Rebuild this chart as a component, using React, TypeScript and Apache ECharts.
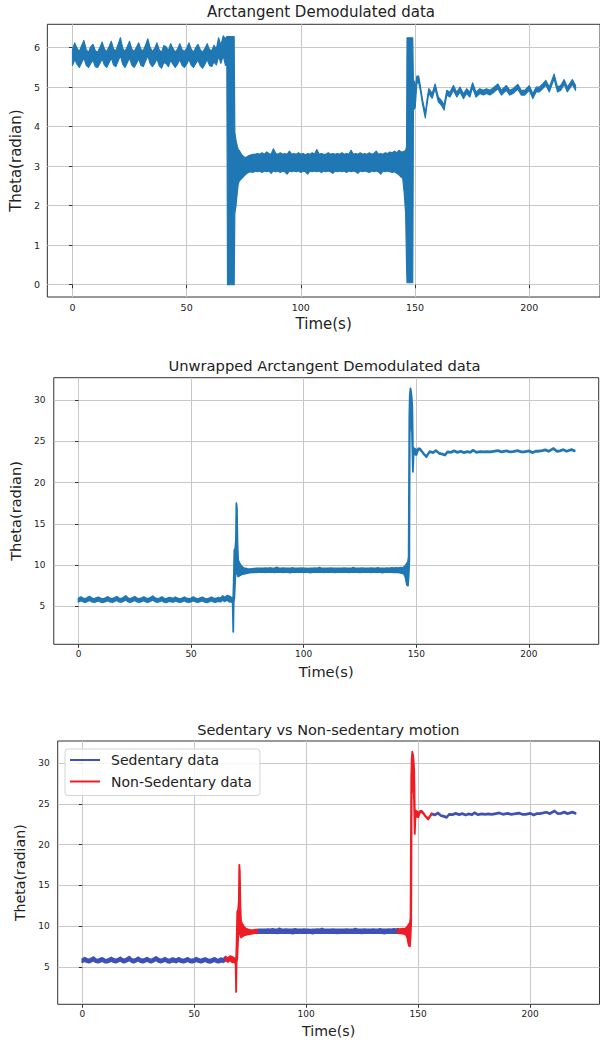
import React, { useEffect, useRef } from "react";
import * as echarts from "echarts";

const FONT = "DejaVu Sans";
const LINE_BLUE = "#1f77b4";
const SED_BLUE = "#3f51b5";
const NONSED_RED = "#ee1d25";
const GRID_GRAY = "#c8c8c8";
const FRAME = "#333333";
const TEXT = "#222222";

const TITLES = [
  "Arctangent Demodulated data",
  "Unwrapped Arctangent Demodulated data",
  "Sedentary vs Non-sedentary motion",
];
const X_NAME = "Time(s)";
const Y_NAME = "Theta(radian)";
const LEGEND_NAMES = ["Sedentary data", "Non-Sedentary data"];

const TIME_TICKS = [0, 50, 100, 150, 200];
const WRAPPED_TICKS = [0, 1, 2, 3, 4, 5, 6];
const UNWRAPPED_TICKS = [5, 10, 15, 20, 25, 30];

// Each row: [time (s), lower edge, upper edge] of the noisy trace (radian)
// Still phase 1 (0-67 s), identical in wrapped and unwrapped plots
const STILL_1 = [
  [0, 5.55, 5.95], [1, 5.7, 6.12], [2, 5.58, 5.98], [3, 5.5, 5.9], [4, 5.62, 6.05],
  [5, 5.74, 6.18], [6, 5.56, 5.95], [7, 5.5, 5.88], [8, 5.6, 6.02], [9, 5.68, 6.08],
  [10, 5.52, 5.92], [11, 5.5, 5.88], [12, 5.6, 6.0], [13, 5.72, 6.14], [14, 5.56, 5.96],
  [15, 5.5, 5.9], [16, 5.62, 6.02], [17, 5.74, 6.16], [18, 5.56, 5.96], [19, 5.52, 5.92],
  [20, 5.66, 6.08], [21, 5.8, 6.25], [22, 5.58, 5.98], [23, 5.5, 5.9], [24, 5.62, 6.02],
  [25, 5.74, 6.16], [26, 5.56, 5.96], [27, 5.5, 5.9], [28, 5.6, 6.0], [29, 5.72, 6.12],
  [30, 5.55, 5.95], [31, 5.52, 5.92], [32, 5.66, 6.06], [33, 5.8, 6.22], [34, 5.6, 6.0],
  [35, 5.52, 5.9], [36, 5.6, 5.98], [37, 5.72, 6.12], [38, 5.54, 5.94], [39, 5.48, 5.88],
  [40, 5.62, 6.05], [41, 5.6, 6.02], [42, 5.52, 5.92], [43, 5.68, 6.1], [44, 5.58, 5.98],
  [45, 5.5, 5.88], [46, 5.58, 5.96], [47, 5.7, 6.1], [48, 5.55, 5.95], [49, 5.5, 5.9],
  [50, 5.58, 5.98], [51, 5.7, 6.12], [52, 5.56, 5.96], [53, 5.5, 5.88], [54, 5.6, 6.0],
  [55, 5.68, 6.08], [56, 5.54, 5.94], [57, 5.48, 5.88], [58, 5.58, 5.98], [59, 5.7, 6.1],
  [60, 5.55, 5.95], [61, 5.52, 5.92], [62, 5.64, 6.06], [63, 5.56, 5.96], [64, 5.78, 6.25],
  [65, 5.6, 6.05], [66, 5.8, 6.3], [67, 5.55, 6.22],
];

// Still phase 2 (73-144 s), wrapped values
const STILL_2 = [
  [73, 2.62, 3.4], [74, 2.68, 3.3], [75, 2.74, 3.24], [76, 2.8, 3.22], [77, 2.84, 3.26],
  [78, 2.86, 3.28], [79, 2.84, 3.3], [80, 2.88, 3.3], [81, 2.86, 3.32], [82, 2.88, 3.3],
  [83, 2.84, 3.34], [84, 2.88, 3.3], [85, 2.86, 3.36], [86, 2.88, 3.32], [87, 2.82, 3.3],
  [88, 2.88, 3.44], [89, 2.86, 3.32], [90, 2.88, 3.3], [91, 2.84, 3.34], [92, 2.88, 3.3],
  [93, 2.86, 3.32], [94, 2.8, 3.3], [95, 2.88, 3.38], [96, 2.86, 3.3], [97, 2.88, 3.32],
  [98, 2.86, 3.3], [99, 2.88, 3.34], [100, 2.84, 3.3], [101, 2.88, 3.32], [102, 2.86, 3.28],
  [103, 2.8, 3.32], [104, 2.88, 3.3], [105, 2.86, 3.34], [106, 2.88, 3.3], [107, 2.86, 3.42],
  [108, 2.88, 3.3], [109, 2.84, 3.32], [110, 2.88, 3.3], [111, 2.86, 3.3], [112, 2.88, 3.34],
  [113, 2.86, 3.3], [114, 2.82, 3.32], [115, 2.88, 3.3], [116, 2.86, 3.32], [117, 2.88, 3.3],
  [118, 2.86, 3.34], [119, 2.88, 3.3], [120, 2.84, 3.32], [121, 2.88, 3.3], [122, 2.86, 3.4],
  [123, 2.88, 3.3], [124, 2.86, 3.32], [125, 2.82, 3.3], [126, 2.88, 3.34], [127, 2.86, 3.3],
  [128, 2.88, 3.32], [129, 2.86, 3.3], [130, 2.84, 3.34], [131, 2.88, 3.3], [132, 2.86, 3.32],
  [133, 2.88, 3.38], [134, 2.86, 3.3], [135, 2.8, 3.32], [136, 2.88, 3.3], [137, 2.86, 3.34],
  [138, 2.88, 3.32], [139, 2.86, 3.36], [140, 2.84, 3.34], [141, 2.86, 3.38], [142, 2.82, 3.34],
  [143, 2.78, 3.4], [144, 2.72, 3.36],
];

// Still phase 3 (150-220 s), wrapped values
const STILL_3 = [
  [150.1, 4.5, 4.95], [150.8, 5.1, 5.28], [151.6, 5.12, 5.28], [152.4, 4.9, 5.01], [153.3, 4.56, 4.68],
  [154.5, 4.22, 4.34], [155.2, 4.54, 4.66], [156, 4.84, 4.96], [157.5, 4.72, 4.84], [158.8, 4.96, 5.08],
  [160.2, 4.63, 4.75], [161.6, 4.54, 4.66], [162.7, 4.42, 4.54], [163.9, 4.8, 4.92], [165.3, 4.75, 4.87],
  [166.8, 4.92, 5.04], [168.3, 4.75, 4.87], [169.7, 4.88, 5.0], [171.2, 4.71, 4.83], [172.6, 4.84, 4.96],
  [174, 4.75, 4.87], [175.2, 4.99, 5.11], [176.7, 4.75, 4.87], [178.4, 4.84, 4.96], [179.9, 4.8, 4.92],
  [181.3, 4.84, 4.96], [182.8, 4.8, 4.92], [184.2, 4.86, 4.98], [186.3, 4.96, 5.08], [187.8, 4.8, 4.92],
  [190, 4.92, 5.04], [191.5, 4.8, 4.92], [192.9, 4.84, 4.96], [195, 4.95, 5.07], [196.5, 4.8, 4.92],
  [198, 4.8, 4.92], [200, 4.92, 5.04], [201.6, 4.71, 4.83], [203, 4.88, 5.0], [204.4, 4.88, 5.0],
  [205.9, 4.96, 5.08], [207.3, 5.05, 5.17], [208.8, 4.88, 5.0], [210.9, 5.21, 5.33], [212.4, 4.88, 5.0],
  [213.8, 4.92, 5.04], [215.3, 5.07, 5.19], [216.7, 4.88, 5.0], [218.9, 5.07, 5.19], [220.3, 4.92, 5.04],
];

// Movement episodes, wrapped (arctangent output folds into 0..2π)
const MOVE_1_WRAPPED = [
  [67.6, 5.55, 6.28], [67.9, 0.0, 6.28], [70.8, 0.0, 6.28], [71.1, 1.8, 3.85],
  [71.6, 2.0, 3.65], [72.2, 2.35, 3.5], [72.6, 2.55, 3.42],
];
const MOVE_2_WRAPPED = [
  [144.6, 2.7, 3.36], [145.3, 2.3, 3.38], [145.9, 1.8, 3.4], [146.3, 0.5, 3.5],
  [146.5, 0.05, 6.25], [149.0, 0.05, 6.25], [149.3, 4.42, 5.1], [149.7, 4.45, 5.15],
];

// Movement episodes, unwrapped
const MOVE_1_UNWRAPPED = [
  [67.6, 5.6, 6.1], [68.1, 5.5, 6.0], [68.45, 5.55, 6.05], [68.7, 1.92, 6.0], [68.9, 5.5, 7.8],
  [69.2, 6.0, 11.8], [69.6, 8.5, 12.0], [69.9, 9.0, 13.0], [70.1, 10.5, 17.5], [70.35, 10.0, 16.8],
  [70.6, 9.0, 12.5], [70.9, 8.6, 10.6], [71.4, 8.7, 10.3], [72.0, 8.8, 10.0], [72.6, 8.9, 9.8],
];
const MOVE_2_UNWRAPPED = [
  [144.6, 8.9, 9.75], [145.2, 8.5, 9.95], [145.8, 7.6, 10.2], [146.3, 7.5, 10.4], [146.6, 8.6, 11.0],
  [146.9, 10.5, 28.0], [147.1, 26.0, 30.5], [147.4, 27.0, 31.4], [147.7, 27.4, 31.0], [148.0, 27.2, 30.2],
  [148.25, 24.0, 29.0], [148.5, 21.3, 24.0], [148.8, 23.4, 24.2], [149.3, 23.5, 24.1], [149.7, 23.35, 24.0],
];

// whole turns added by unwrapping to still phases 2 and 3
const TURNS_STILL_2 = 1;
const TURNS_STILL_3 = 3;

// time spans (s) classified in the third plot
const SEDENTARY_SPANS = [[0, 64], [78, 141], [156, 221]];
const NON_SEDENTARY_SPANS = [[64, 78], [141, 156]];

const unwrapRows = (rows: number[][], turns: number) =>
  rows.map(([t, lo, hi]) => [t, lo + turns * 2 * Math.PI, hi + turns * 2 * Math.PI]);

const WRAPPED = [...STILL_1, ...MOVE_1_WRAPPED, ...STILL_2, ...MOVE_2_WRAPPED, ...STILL_3];
const UNWRAPPED = [
  ...STILL_1,
  ...MOVE_1_UNWRAPPED,
  ...unwrapRows(STILL_2, TURNS_STILL_2),
  ...MOVE_2_UNWRAPPED,
  ...unwrapRows(STILL_3, TURNS_STILL_3),
];

const inSpan = (rows: number[][], span: number[]) => rows.filter((r) => r[0] >= span[0] && r[0] <= span[1]);

function band(rows: number[][], idx: number, color: string, width: number, name?: string) {
  return {
    type: "custom",
    name,
    xAxisIndex: idx,
    yAxisIndex: idx,
    clip: true,
    silent: true,
    itemStyle: { color },
    encode: { x: 0, y: [1, 2] },
    data: rows,
    renderItem: (params: any, api: any) => {
      if (params.dataIndex !== 0) return null;
      const pts: number[][] = [];
      for (const r of rows) pts.push(api.coord([r[0], r[2]]));
      for (let i = rows.length - 1; i >= 0; i--) pts.push(api.coord([rows[i][0], rows[i][1]]));
      return {
        type: "polygon",
        shape: { points: pts },
        style: { fill: color, stroke: color, lineWidth: width, lineJoin: "round" },
      };
    },
  };
}

const GRIDS = [
  { left: 43, top: 24.3, width: 558.7, height: 272.7 },
  { left: 51.3, top: 377.7, width: 547.4, height: 266.6 },
  { left: 57.7, top: 741, width: 541.8, height: 263.3 },
];

export default function App() {
  const ref = useRef<HTMLDivElement>(null);
  useEffect(() => {
    if (!ref.current) return;
    const chart = echarts.init(ref.current, undefined, { renderer: "svg" });
    const tickFont = [9.5, 9, 9];
    const nameFont = [15, 14.6, 14.2];
    const xNameGap = [19, 19.5, 19.5];
    const yNameGap = [19, 25, 23];
    const yLabelMargin = [7.4, 8.4, 7.9];

    const xAxis = GRIDS.map((_, i) => ({
      type: "value",
      gridIndex: i,
      min: -11,
      max: 231,
      axisLine: { show: false },
      axisTick: { show: true, length: 3.5, customValues: TIME_TICKS, lineStyle: { color: FRAME } },
      axisLabel: { customValues: TIME_TICKS, fontSize: tickFont[i], fontFamily: FONT, color: TEXT, margin: 5 },
      splitLine: { show: true, lineStyle: { color: GRID_GRAY, width: 1 } },
      name: X_NAME,
      nameLocation: "middle",
      nameGap: xNameGap[i],
      nameTextStyle: { fontSize: nameFont[i], fontFamily: FONT, color: TEXT },
    }));
    const yTicks = [WRAPPED_TICKS, UNWRAPPED_TICKS, UNWRAPPED_TICKS];
    const yRange = [[-0.31, 6.59], [0.4, 32.7], [0.4, 32.7]];
    const yAxis = GRIDS.map((_, i) => ({
      type: "value",
      gridIndex: i,
      min: yRange[i][0],
      max: yRange[i][1],
      axisLine: { show: false },
      axisTick: { show: true, length: 3.5, customValues: yTicks[i], lineStyle: { color: FRAME } },
      axisLabel: { customValues: yTicks[i], fontSize: tickFont[i], fontFamily: FONT, color: TEXT, margin: yLabelMargin[i] },
      splitLine: { show: true, lineStyle: { color: GRID_GRAY, width: 1 } },
      name: Y_NAME,
      nameLocation: "middle",
      nameGap: yNameGap[i],
      nameTextStyle: { fontSize: nameFont[i], fontFamily: FONT, color: TEXT },
    }));

    const titleFont = [15, 14.7, 14.5];
    const titleX = [321, 324.5, 328.4];
    const titleTop = [4.5, 357.5, 722];

    const series: any[] = [
      band(WRAPPED, 0, LINE_BLUE, 1.2),
      band(UNWRAPPED, 1, LINE_BLUE, 1.8),
      ...SEDENTARY_SPANS.map((s) => band(inSpan(UNWRAPPED, s), 2, SED_BLUE, 1.8, LEGEND_NAMES[0])),
      ...NON_SEDENTARY_SPANS.map((s) => band(inSpan(UNWRAPPED, s), 2, NONSED_RED, 1.8, LEGEND_NAMES[1])),
    ];

    chart.setOption({
      animation: false,
      backgroundColor: "#ffffff",
      title: TITLES.map((t, i) => ({
        text: t,
        left: titleX[i],
        top: titleTop[i],
        textAlign: "center",
        padding: 0,
        textStyle: { fontSize: titleFont[i], fontWeight: "normal", fontFamily: FONT, color: TEXT },
      })),
      grid: GRIDS.map((g) => ({ ...g, show: true, borderColor: FRAME, borderWidth: 1, containLabel: false })),
      xAxis,
      yAxis,
      legend: {
        show: true,
        orient: "vertical",
        left: 65,
        top: 749,
        data: LEGEND_NAMES,
        icon: "rect",
        itemWidth: 30,
        itemHeight: 2,
        itemGap: 5.5,
        padding: [3, 8, 6, 5],
        backgroundColor: "rgba(255,255,255,0.85)",
        borderColor: "#d4d4d4",
        borderWidth: 1,
        borderRadius: 3,
        selectedMode: false,
        textStyle: { fontSize: 14, fontFamily: FONT, color: TEXT, lineHeight: 16, padding: [0, 0, 0, 6] },
      },
      series,
    });
    return () => chart.dispose();
  }, []);
  return <div ref={ref} style={{ position: "absolute", left: 0, top: 0, width: 600, height: 1040 }} />;
}
